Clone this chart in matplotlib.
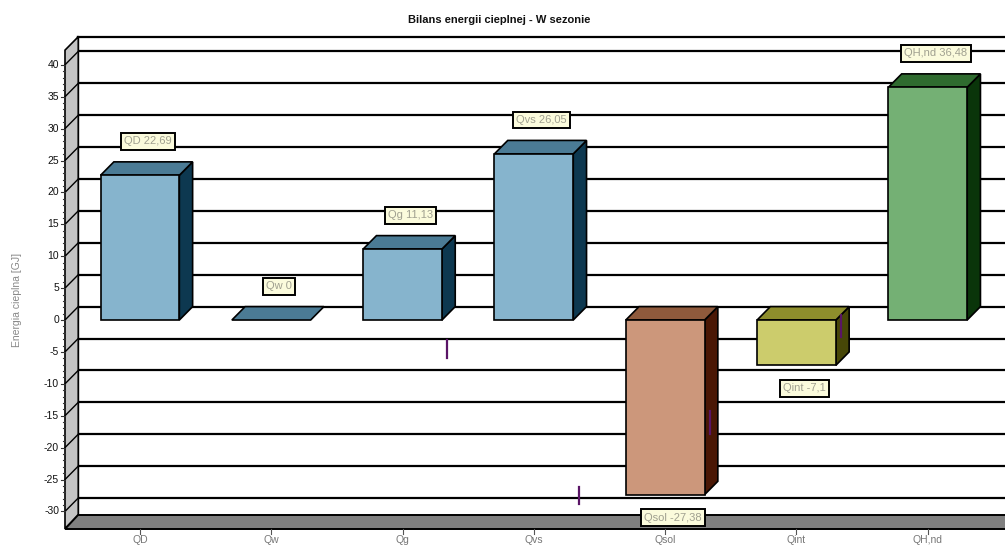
import numpy as np
import matplotlib.pyplot as plt
from matplotlib.patches import Polygon

plt.rcParams['font.family'] = ['Liberation Sans', 'DejaVu Sans']

# Heat balance data (GJ)
categories = ['QD', 'Qw', 'Qg', 'Qvs', 'Qsol', 'Qint', 'QH,nd']
values = [22.69, 0.0, 11.13, 26.05, -27.38, -7.1, 36.48]
value_labels = ['QD 22,69', 'Qw 0', 'Qg 11,13', 'Qvs 26,05', 'Qsol -27,38', 'Qint -7,1', 'QH,nd 36,48']

# small purple marks drawn on the side of some bars (category index, low, high)
mark_idx = [2, 3, 4, 5]
mark_lo = [-5.9, -28.9, -17.8, -2.7]
mark_hi = [-3.2, -26.2, -14.3, 0.8]

yticks = list(range(-30, 41, 5))

# colours: front, top, side
front_cols = ['#86b4cd', '#86b4cd', '#86b4cd', '#86b4cd', '#cc977b', '#cccc6c', '#74b074']
top_cols = ['#4b7b95', '#4b7b95', '#4b7b95', '#4b7b95', '#8f5a3c', '#8e8e2c', '#2f6b2f']
side_cols = ['#0d3850', '#0d3850', '#0d3850', '#0d3850', '#4a1705', '#474707', '#0a350a']

# 3D look: depth offset in data units
dx, dy = 0.101, 2.1
half_w = 0.30
wall_x = -0.571
floor_v = -32.7
top_v = 42.3
x_right = 7.5

fig = plt.figure(figsize=(10.05, 5.46), dpi=100)
ax = fig.add_axes([0, 0, 1, 1])
ax.set_xlim(-1.066, 6.588)
ax.set_ylim(-35.42, 50.16)
ax.axis('off')

# back wall with grid lines
ax.add_patch(Polygon([(wall_x + dx, floor_v + dy), (x_right, floor_v + dy),
                      (x_right, top_v + dy), (wall_x + dx, top_v + dy)],
                     closed=True, fc='white', ec='none', zorder=1))
for v in yticks + [top_v]:
    ax.plot([wall_x + dx, x_right], [v + dy, v + dy], color='black', lw=1.6, zorder=2)
ax.plot([wall_x + dx, wall_x + dx], [floor_v + dy, top_v + dy], color='black', lw=1.6, zorder=2)

# left wall
ax.add_patch(Polygon([(wall_x, floor_v), (wall_x + dx, floor_v + dy),
                      (wall_x + dx, top_v + dy), (wall_x, top_v)],
                     closed=True, fc='#c4c4c4', ec='black', lw=1.2, zorder=3))
for v in yticks:
    ax.plot([wall_x, wall_x + dx], [v, v + dy], color='black', lw=1.0, zorder=3)

# floor
ax.add_patch(Polygon([(wall_x, floor_v), (x_right, floor_v),
                      (x_right, floor_v + dy), (wall_x + dx, floor_v + dy)],
                     closed=True, fc='#808080', ec='black', lw=1.4, zorder=3))

# y ticks and labels on the front edge
for v in range(-30, 41):
    ln = 0.028 if v % 5 == 0 else 0.012
    ax.plot([wall_x - ln, wall_x], [v, v], color='#333333', lw=0.8, zorder=3)
for v in yticks:
    ax.text(wall_x - 0.045, v, str(v), ha='right', va='center', fontsize=7.5,
            color='#111111', zorder=4)

# bars
for i, (cat, v) in enumerate(zip(categories, values)):
    x0, x1 = i - half_w, i + half_w
    lo, hi = min(v, 0), max(v, 0)
    if v != 0:
        ax.add_patch(Polygon([(x1, lo), (x1 + dx, lo + dy), (x1 + dx, hi + dy), (x1, hi)],
                             closed=True, fc=side_cols[i], ec='black', lw=1.2, zorder=5))
    ax.add_patch(Polygon([(x0, hi), (x1, hi), (x1 + dx, hi + dy), (x0 + dx, hi + dy)],
                         closed=True, fc=top_cols[i], ec='black', lw=1.2, zorder=5))
    if v != 0:
        ax.add_patch(Polygon([(x0, lo), (x1, lo), (x1, hi), (x0, hi)],
                             closed=True, fc=front_cols[i], ec='black', lw=1.2, zorder=6))

# purple marks
for i, lo, hi in zip(mark_idx, mark_lo, mark_hi):
    ax.plot([i + 0.34, i + 0.34], [lo, hi], color='#5a1466', lw=1.6, zorder=7)

# value labels
for i, (v, txt) in enumerate(zip(values, value_labels)):
    ly = v + 5.3 if v >= 0 else v - 3.6
    ax.text(i + 0.06, ly, txt, ha='center', va='center', fontsize=8, color='#a0a090',
            zorder=8, bbox=dict(boxstyle='square,pad=0.3', fc='#fbfbdc', ec='black', lw=1.4))

# x ticks and labels
for i, cat in enumerate(categories):
    ax.plot([i, i], [floor_v - 0.8, floor_v], color='#555555', lw=0.8, zorder=3)
    ax.text(i, floor_v - 1.75, cat, ha='center', va='center', fontsize=7.5, color='#777777')

fig.text(0.497, 0.963, 'Bilans energii cieplnej - W sezonie', ha='center', va='center',
         fontsize=8, fontweight='bold', color='#111111')
fig.text(0.017, 0.45, 'Energia cieplna [GJ]', ha='center', va='center', rotation=90,
         fontsize=7.5, color='#888888')

fig.savefig('out.png', dpi=100)
